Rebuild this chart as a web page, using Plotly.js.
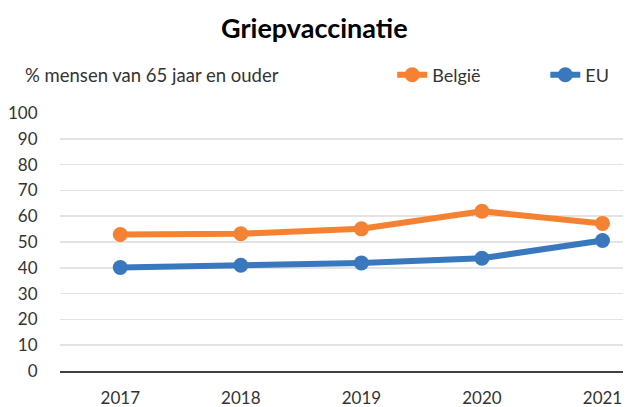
<!DOCTYPE html>
<html><head><meta charset="utf-8">
<script src="https://cdn.plot.ly/plotly-3.0.1.min.js"></script>
<style>html,body{margin:0;padding:0;background:#fff}#c{width:635px;height:407px}</style>
</head><body><div id="c"></div>
<script>
const years = ['2017','2018','2019','2020','2021'];
const belgie = [52.9, 53.2, 55.1, 61.9, 57.2];
const eu = [40.1, 41.0, 41.9, 43.7, 50.6];
const yTicks = [0,10,20,30,40,50,60,70,80,90,100];

const font = 'Lato, "Open Sans", sans-serif';
const traces = [
  {x: years, y: belgie, name: 'België', type: 'scatter', mode: 'lines+markers', legend: 'legend',
   line: {color: '#F58233', width: 6}, marker: {color: '#F58233', size: 15}},
  {x: years, y: eu, name: 'EU', type: 'scatter', mode: 'lines+markers', legend: 'legend2',
   line: {color: '#3A78BE', width: 6}, marker: {color: '#3A78BE', size: 15}}
];
const legendFont = {family: font, size: 18, color: '#333'};
const layout = {
  width: 635, height: 407,
  margin: {l: 60, r: 12, t: 113, b: 36},
  paper_bgcolor: '#fff', plot_bgcolor: '#fff',
  font: {family: font, color: '#333', size: 17},
  title: {text: '<b>Griepvaccinatie</b>', font: {family: font, size: 27, color: '#000'},
          x: 0.495, xanchor: 'center', y: 0.93, yanchor: 'middle'},
  showlegend: true,
  legend: {orientation: 'h', x: 0.59, xanchor: 'left', y: 1.147, yanchor: 'middle',
           font: legendFont, bgcolor: 'rgba(0,0,0,0)'},
  legend2: {orientation: 'h', x: 0.862, xanchor: 'left', y: 1.147, yanchor: 'middle',
           font: legendFont, bgcolor: 'rgba(0,0,0,0)'},
  xaxis: {type: 'category', range: [-0.5, 4.17], showgrid: false, zeroline: false,
          showline: true, linecolor: '#404040', linewidth: 1.5,
          ticks: 'outside', ticklen: 11, tickcolor: 'rgba(0,0,0,0)',
          tickfont: {family: font, size: 17, color: '#333'}, fixedrange: true},
  yaxis: {range: [0, 100], tickvals: yTicks, ticktext: yTicks.map(String),
          showgrid: true, gridcolor: '#e3e3e3', gridwidth: 1.5, zeroline: false,
          showline: false, ticks: 'outside', ticklen: 18, tickcolor: 'rgba(0,0,0,0)',
          tickfont: {family: font, size: 17, color: '#333'}, fixedrange: true},
  annotations: [{text: '% mensen van 65 jaar en ouder', xref: 'paper', yref: 'paper',
     x: -0.066, y: 1.147, xanchor: 'left', yanchor: 'middle', showarrow: false,
     font: {family: font, size: 18.5, color: '#333'}}]
};
Plotly.newPlot('c', traces, layout, {displayModeBar: false, staticPlot: true});
</script></body></html>
